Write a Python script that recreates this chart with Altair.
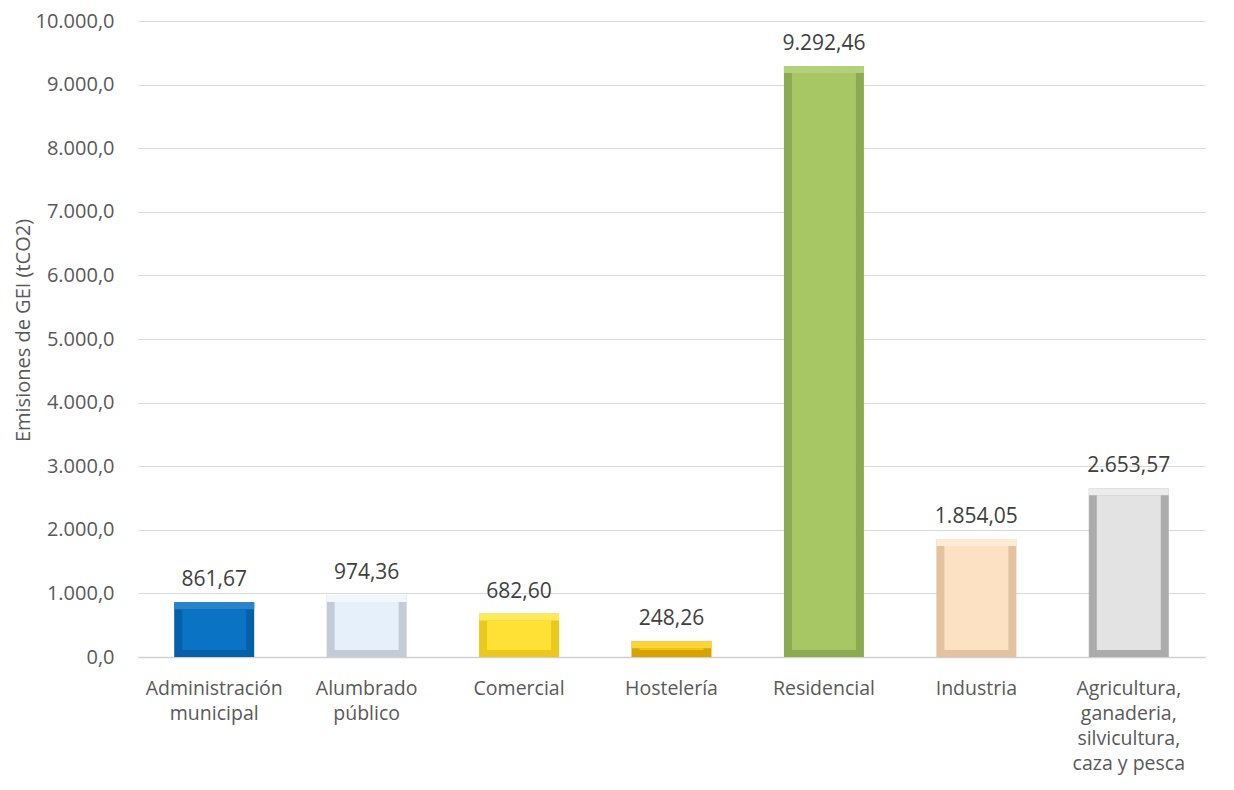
import altair as alt
import pandas as pd

categories = ["Administración municipal", "Alumbrado público", "Comercial", "Hostelería",
              "Residencial", "Industria", "Agricultura, ganaderia, silvicultura, caza y pesca"]
label_lines = [["Administración", "municipal"], ["Alumbrado", "público"], ["Comercial"],
               ["Hostelería"], ["Residencial"], ["Industria"],
               ["Agricultura,", "ganaderia,", "silvicultura,", "caza y pesca"]]
values = [861.67, 974.36, 682.60, 248.26, 9292.46, 1854.05, 2653.57]
main_colors = ["#0a73c4", "#e6f0fa", "#ffe135", "#fcc70a", "#a6c764", "#fde1c3", "#e3e3e3"]
edge_colors = ["#0660a8", "#c3ccd6", "#ecc71c", "#d6a300", "#8cab50", "#e3c29f", "#ababab"]
top_colors = ["#2a84cc", "#f2f7fc", "#ffea5c", "#ffd33a", "#b3d17a", "#feebd6", "#ececec"]

df = pd.DataFrame({"cat": categories, "val": values})

lookup = "{" + ",".join(
    "'" + c + "':[" + ",".join("'" + l + "'" for l in ls) + "]"
    for c, ls in zip(categories, label_lines)) + "}"

FONT = "Open Sans"
TXT = "#595959"

x_enc = alt.X("cat:N", sort=categories, title=None,
              scale=alt.Scale(paddingInner=0.47, paddingOuter=0.235),
              axis=alt.Axis(labelExpr=lookup + "[datum.label]", labelAngle=0,
                            labelFontSize=19.5, labelColor=TXT, labelFont=FONT,
                            labelLineHeight=25, labelPadding=22, ticks=False,
                            domainColor="#d0d0d0", domainWidth=1.5,
                            labelBaseline="top"))
y_enc = alt.Y("val:Q", title="Emisiones de GEI (tCO2)",
              scale=alt.Scale(domain=[0, 10000], nice=False),
              axis=alt.Axis(values=list(range(0, 10001, 1000)), format=",.1f",
                            labelFontSize=20, labelColor=TXT, labelFont=FONT,
                            labelPadding=24, ticks=False, domain=False,
                            gridColor="#d9d9d9", gridWidth=1,
                            titleFontSize=20, titleFont=FONT, titleColor=TXT,
                            titleFontWeight="normal", titleX=-115, titleY=309,
                            titleBaseline="middle", titleAlign="center"))

base = alt.Chart(df)

def col(rng):
    return alt.Color("cat:N", sort=categories,
                     scale=alt.Scale(domain=categories, range=rng), legend=None)

outer = base.mark_bar(size=80).encode(x=x_enc, y=y_enc, color=col(edge_colors))

top = base.mark_bar(size=80, y2Offset=7).encode(
    x=alt.X("cat:N", sort=categories), y="val:Q", y2="val:Q", color=col(top_colors))

inner = base.mark_bar(size=64, yOffset=7, y2Offset=-7).encode(
    x=alt.X("cat:N", sort=categories), y="val:Q", y2=alt.datum(0), color=col(main_colors))

labels = base.mark_text(dy=-12, baseline="bottom", fontSize=21, font=FONT, color="#404040").encode(
    x=alt.X("cat:N", sort=categories), y="val:Q",
    text=alt.Text("val:Q", format=",.2f"))

chart = alt.layer(outer, top, inner, labels).resolve_scale(color="independent").properties(
    width=1067, height=636,
    autosize=alt.AutoSizeParams(type="none"),
    padding={"left": 130, "top": 13, "right": 21, "bottom": 125},
).configure(
    locale={"number": {"decimal": ",", "thousands": ".", "grouping": [3], "currency": ["", " €"]}}
).configure_view(stroke=None)

chart.save("out.html", embed_options={"renderer": "svg", "actions": False})
